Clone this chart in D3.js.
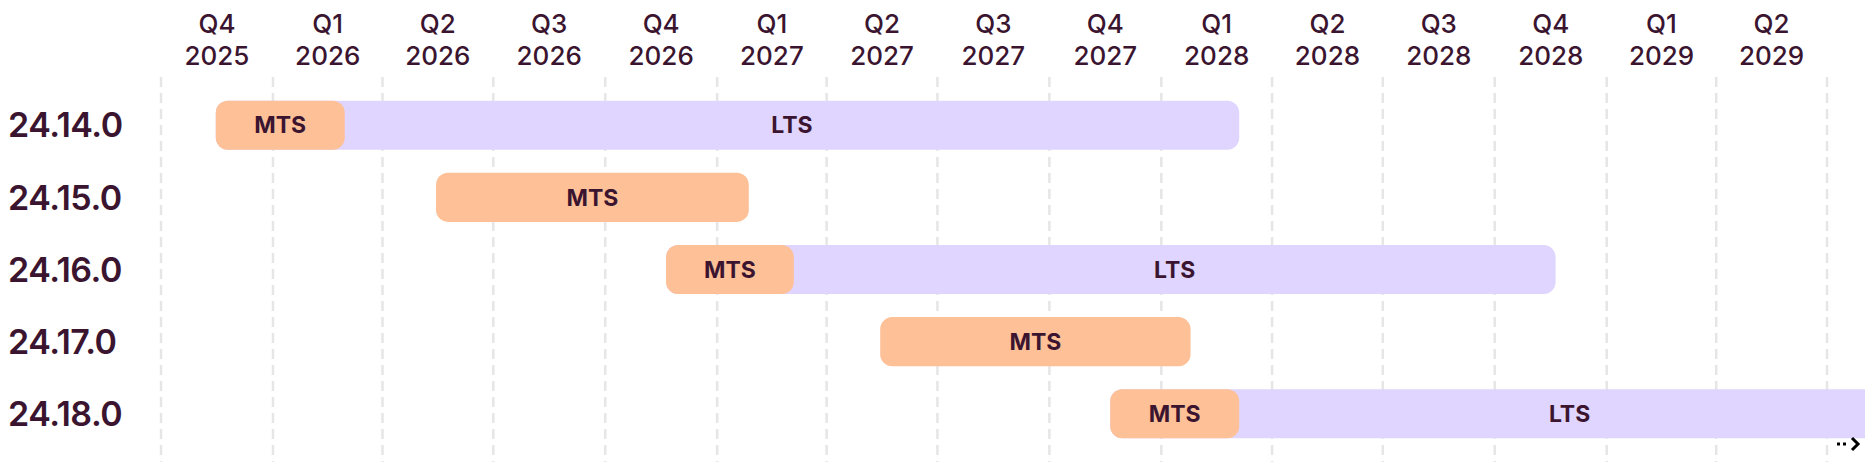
<!DOCTYPE html>
<html><head><meta charset="utf-8">
<script src="https://cdn.jsdelivr.net/npm/d3@7"></script>
<style>body{margin:0;background:#fff;font-family:Inter,"Noto Sans",sans-serif;}</style>
</head><body>
<script>
var versions = ["24.14.0","24.15.0","24.16.0","24.17.0","24.18.0"];
var mtsStart = ["2025-11-15","2026-05-15","2026-11-20","2027-05-15","2027-11-20"];
var mtsEnd   = ["2026-03-01","2027-01-27","2027-03-05","2028-01-25","2028-03-05"];
var ltsEnd   = ["2028-03-05",null,"2028-11-20",null,"2029-08-30"];
var quarterTicks = ["Q4 2025","Q1 2026","Q2 2026","Q3 2026","Q4 2026","Q1 2027","Q2 2027","Q3 2027","Q4 2027","Q1 2028","Q2 2028","Q3 2028","Q4 2028","Q1 2029","Q2 2029"];

var W = 1865, H = 462, ink = "#3b1530";
var parse = d3.timeParse("%Y-%m-%d");
var x = d3.scaleUtc().domain([new Date(Date.UTC(2025,9,1)), new Date(Date.UTC(2029,6,1))]).range([161, 1827]);
var y = d3.scaleBand().domain(versions).range([92, 447]).paddingInner(0.32).paddingOuter(0.12);

var svg = d3.select("body").append("svg").attr("width", W).attr("height", H);

var bounds = d3.range(quarterTicks.length + 1).map(function(i){ return new Date(Date.UTC(2025, 9 + 3*i, 1)); });

svg.append("g").selectAll("line").data(bounds).join("line")
  .attr("x1", d => x(d)).attr("x2", d => x(d))
  .attr("y1", 77).attr("y2", H)
  .attr("stroke", "#e6e6e6").attr("stroke-width", 2.5).attr("stroke-dasharray", "10,6");

// quarter labels
var tl = svg.append("g").selectAll("text").data(quarterTicks).join("text")
  .attr("x", (d,i) => (x(bounds[i]) + x(bounds[i+1])) / 2)
  .attr("text-anchor", "middle").attr("fill", ink)
  .attr("font-size", 26).attr("font-weight", 500);
tl.append("tspan").attr("x", (d,i) => (x(bounds[i]) + x(bounds[i+1])) / 2).attr("y", 33).text(d => d.split(" ")[0]);
tl.append("tspan").attr("x", (d,i) => (x(bounds[i]) + x(bounds[i+1])) / 2).attr("y", 65).text(d => d.split(" ")[1]);

// version labels
svg.append("g").selectAll("text").data(versions).join("text")
  .attr("x", 8).attr("y", d => y(d) + y.bandwidth()/2)
  .attr("dy", "0.36em").attr("fill", ink)
  .attr("font-size", 34).attr("font-weight", 600).attr("letter-spacing", -0.5)
  .text(d => d);

var rows = versions.map(function(v, i){ return {v: v, s: parse(mtsStart[i]), m: parse(mtsEnd[i]), l: ltsEnd[i] ? parse(ltsEnd[i]) : null}; });
var r = 12;

var lts = rows.filter(d => d.l);
svg.append("g").selectAll("rect").data(lts).join("rect")
  .attr("x", d => x(d.s)).attr("width", d => x(d.l) - x(d.s))
  .attr("y", d => y(d.v)).attr("height", y.bandwidth())
  .attr("rx", r).attr("fill", "#e0d5fe");
svg.append("g").selectAll("text").data(lts).join("text")
  .attr("x", d => (x(d.m) + x(d.l)) / 2).attr("y", d => y(d.v) + y.bandwidth()/2)
  .attr("dy", "0.36em").attr("text-anchor", "middle")
  .attr("fill", ink).attr("font-size", 23).attr("font-weight", 700).text("LTS");

svg.append("g").selectAll("rect").data(rows).join("rect")
  .attr("x", d => x(d.s)).attr("width", d => x(d.m) - x(d.s))
  .attr("y", d => y(d.v)).attr("height", y.bandwidth())
  .attr("rx", r).attr("fill", "#fec097");
svg.append("g").selectAll("text").data(rows).join("text")
  .attr("x", d => (x(d.s) + x(d.m)) / 2).attr("y", d => y(d.v) + y.bandwidth()/2)
  .attr("dy", "0.36em").attr("text-anchor", "middle")
  .attr("fill", ink).attr("font-size", 23).attr("font-weight", 700).text("MTS");

// continuation arrow
var ax = W - 28, ay = 444;
svg.append("line").attr("x1", ax).attr("x2", ax + 12).attr("y1", ay).attr("y2", ay)
  .attr("stroke", "#000").attr("stroke-width", 3).attr("stroke-dasharray", "3,3");
svg.append("path").attr("d", "M" + (ax+15) + "," + (ay-6) + "L" + (ax+21) + "," + ay + "L" + (ax+15) + "," + (ay+6))
  .attr("fill", "none").attr("stroke", "#000").attr("stroke-width", 3);
</script>
</body></html>
